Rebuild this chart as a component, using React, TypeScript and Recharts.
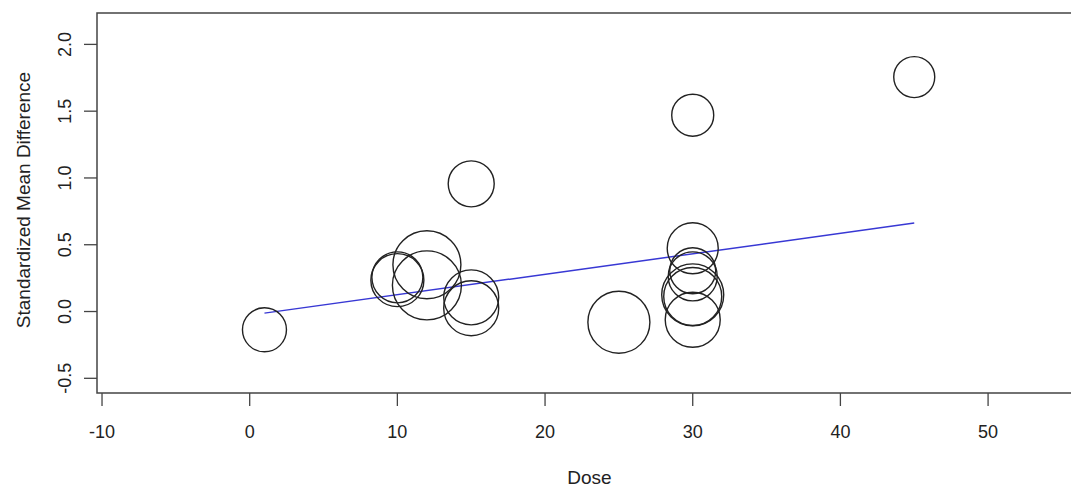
import React from 'react'
import { ScatterChart, Scatter, XAxis, YAxis, ReferenceArea, ReferenceLine } from 'recharts'

// study-level points: dose, standardized mean difference, weight (drives circle size)
const doses = [1, 10, 10, 12, 12, 15, 15, 15, 25, 30, 30, 30, 30, 30, 30, 30, 45]
const smds = [-0.137, 0.256, 0.235, 0.35, 0.196, 0.106, 0.025, 0.956, -0.08, 0.474, 0.305, 0.263, 0.125, 0.112, -0.062, 1.47, 1.755]
const weights = [2.2, 2.55, 2.65, 3.4, 3.45, 2.75, 2.75, 2.3, 3.1, 2.55, 2.3, 2.45, 3.1, 2.9, 2.75, 2.1, 2.05]

// fitted meta-regression line
const fitX = [1, 45]
const fitY = [-0.012, 0.662]

const xTicks = [-10, 0, 10, 20, 30, 40, 50]
const yTicks = [-0.5, 0, 0.5, 1, 1.5, 2]

const X_DOMAIN: [number, number] = [-10.34, 56.36]
const Y_DOMAIN: [number, number] = [-0.61, 2.235]

const points = doses.map((d, i) => ({ dose: d, smd: smds[i], w: weights[i] }))

const FONT = '"Liberation Sans", Arial, Helvetica, sans-serif'
const INK = '#222'

function Bubble(props: any) {
  const { cx, cy } = props
  const w = props.payload?.w ?? props.w
  return <circle cx={cx} cy={cy} r={w * 10} fill="none" stroke={INK} strokeWidth={1.4} />
}

function XTick({ x, y, payload }: any) {
  return (
    <text x={x} y={y + 30} textAnchor="middle" fontSize={18} fill={INK} fontFamily={FONT}>
      {payload.value}
    </text>
  )
}

function YTick({ x, y, payload }: any) {
  const tx = x - 11
  return (
    <text
      x={tx}
      y={y}
      transform={`rotate(-90, ${tx}, ${y})`}
      textAnchor="middle"
      fontSize={18}
      fill={INK}
      fontFamily={FONT}
    >
      {Number(payload.value).toFixed(1)}
    </text>
  )
}

export default function App() {
  return (
    <div style={{ position: 'absolute', left: 0, top: 0, width: 1071, height: 488, overflow: 'hidden', background: '#fff' }}>
      <ScatterChart width={1082} height={488} margin={{ top: 13, right: 0, bottom: 0, left: 0 }}>
        <XAxis
          type="number"
          dataKey="dose"
          domain={X_DOMAIN}
          ticks={xTicks}
          allowDataOverflow
          height={95}
          axisLine={false}
          tickSize={13}
          tickLine={{ stroke: '#444', strokeWidth: 1.3 }}
          tick={<XTick />}
          label={{
            content: ({ viewBox }: any) => (
              <text
                x={viewBox.x + viewBox.width / 2}
                y={477}
                textAnchor="middle"
                dominantBaseline="central"
                fontSize={19}
                fill={INK}
                fontFamily={FONT}
              >
                Dose
              </text>
            ),
          }}
        />
        <YAxis
          type="number"
          dataKey="smd"
          domain={Y_DOMAIN}
          ticks={yTicks}
          allowDataOverflow
          width={97}
          axisLine={false}
          tickSize={13}
          tickLine={{ stroke: '#444', strokeWidth: 1.3 }}
          tick={<YTick />}
          label={{
            content: () => (
              <text
                x={23}
                y={200}
                transform="rotate(-90, 23, 200)"
                textAnchor="middle"
                dominantBaseline="central"
                fontSize={19}
                fill={INK}
                fontFamily={FONT}
              >
                Standardized Mean Difference
              </text>
            ),
          }}
        />
        <ReferenceArea
          x1={X_DOMAIN[0]}
          x2={X_DOMAIN[1]}
          y1={Y_DOMAIN[0]}
          y2={Y_DOMAIN[1]}
          fill="none"
          stroke="#444"
          strokeWidth={1.5}
          ifOverflow="visible"
        />
        <ReferenceLine
          segment={[
            { x: fitX[0], y: fitY[0] },
            { x: fitX[1], y: fitY[1] },
          ]}
          stroke="#3838d4"
          strokeWidth={1.5}
          ifOverflow="visible"
        />
        <Scatter data={points} shape={<Bubble />} isAnimationActive={false} />
      </ScatterChart>
    </div>
  )
}
